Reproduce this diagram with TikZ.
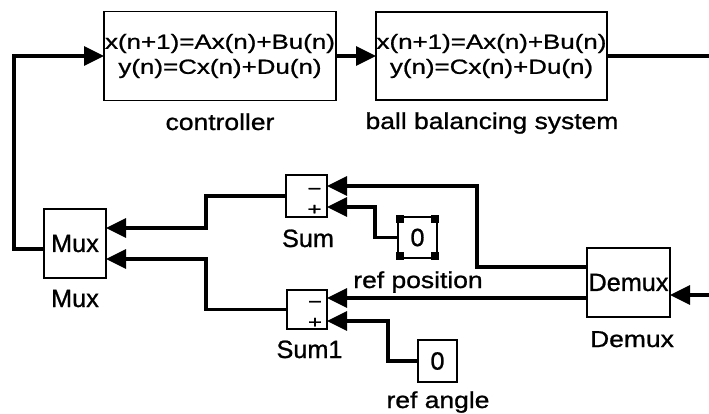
\documentclass[tikz,border=0pt]{standalone}
\usepackage{fontspec}
\setmainfont{Liberation Sans}[FakeStretch=1.15,FakeBold=1]
\newfontfamily\widefont{Liberation Sans}[FakeStretch=1.265,FakeBold=1]
\newfontfamily\narrowfont{Liberation Sans}[FakeStretch=1.01,FakeBold=1]
\newfontfamily\signfont{Liberation Sans}[FakeStretch=1.4,FakeBold=1.5]
\usetikzlibrary{arrows.meta,calc}
\begin{document}
\begin{tikzpicture}[x=1pt,y=-1pt,
  blk/.style={draw, line width=1.8pt, inner sep=0pt, outer sep=0pt, align=center},
  conn/.style={line width=3.2pt},
  arr/.style={conn,-{Triangle[length=20pt,width=19pt]}},
  lbl/.style={anchor=base, inner sep=0pt, font=\fontsize{23}{26}\selectfont},
  biglbl/.style={anchor=base, inner sep=0pt, font=\narrowfont\fontsize{25}{28}\selectfont},
  eqtext/.style={font=\widefont\fontsize{20.5}{25}\selectfont},
  bigtext/.style={font=\narrowfont\fontsize{25}{28}\selectfont},
  signtext/.style={anchor=south, inner sep=0pt, align=center, font=\signfont\fontsize{17}{20.5}\selectfont}
]
\useasboundingbox (0,0) rectangle (709,414);

% blocks
\node[blk, eqtext, minimum width=232pt, minimum height=89pt] (ctrl) at (220,56)
  {x(n+1)=Ax(n)+Bu(n)\\y(n)=Cx(n)+Du(n)};
\node[blk, eqtext, minimum width=231pt, minimum height=88pt] (ball) at (491.5,56)
  {x(n+1)=Ax(n)+Bu(n)\\y(n)=Cx(n)+Du(n)};
\node[blk, bigtext, minimum width=62pt, minimum height=69pt] (mux) at (75,243.5) {Mux};
\node[blk, minimum width=41pt, minimum height=42pt] (sum) at (306.5,196) {};
\node[blk, minimum width=40pt, minimum height=39pt] (sum1) at (307,309.5) {};
\node[blk, bigtext, minimum width=39pt, minimum height=41pt] (refpos) at (417.5,237.5) {0};
\node[blk, bigtext, minimum width=39pt, minimum height=42pt] (refang) at (437.5,361) {0};
\node[blk, bigtext, minimum width=83pt, minimum height=69pt] (demux) at (628.5,282.5) {Demux};

% selection marks on ref position
\fill ($(refpos.north west)+(-2,-2)$) rectangle ++(8,8);
\fill ($(refpos.north east)+(-6,-2)$) rectangle ++(8,8);
\fill ($(refpos.south west)+(-2,-6)$) rectangle ++(8,8);
\fill ($(refpos.south east)+(-6,-6)$) rectangle ++(8,8);

% signs
\node[signtext] (sumsigns) at (314.5,215) {−\\+};
\node[signtext] (sum1signs) at (315,328) {−\\+};

% labels
\node[lbl] (ctrllbl) at (220,130) {controller};
\node[lbl] (balllbl) at (492,129) {ball balancing system};
\node[biglbl] (muxlbl) at (75,307) {Mux};
\node[biglbl] (sumlbl) at (308,247) {Sum};
\node[biglbl] (sum1lbl) at (309.5,358) {Sum1};
\node[lbl] (refposlbl) at (418,288) {ref position};
\node[lbl] (refanglbl) at (438,408) {ref angle};
\node[lbl] (demuxlbl) at (632,347) {Demux};

% connectors
\coordinate (outR) at (709,56);
\coordinate (inR) at (709,295);
\draw[arr] ($(mux.west)+(0,5.5)$) -- ++(-30,0) |- (ctrl.west);
\draw[arr] (ctrl.east) -- (ball.west);
\draw[conn] (ball.east) -- (outR);
\draw[arr] (inR) -- (demux.east |- inR);
\draw[arr] (sum.west) -- ++(-80,0) |- ($(mux.east)+(0,-15.5)$);
\draw[arr] (sum1.west) -- ++(-81,0) |- ($(mux.east)+(0,15.5)$);
\draw[arr] ($(demux.west)+(0,-15.5)$) -- ++(-110,0) |- ($(sum.east)+(0,-10)$);
\draw[arr] ($(demux.west)+(0,15.5)$) -- ($(sum1.east)+(0,-11.5)$);
\draw[arr] (refpos.west) -- ++(-23,0) |- ($(sum.east)+(0,11)$);
\draw[arr] (refang.west) -- ++(-30,0) |- ($(sum1.east)+(0,11.5)$);
\end{tikzpicture}
\end{document}
